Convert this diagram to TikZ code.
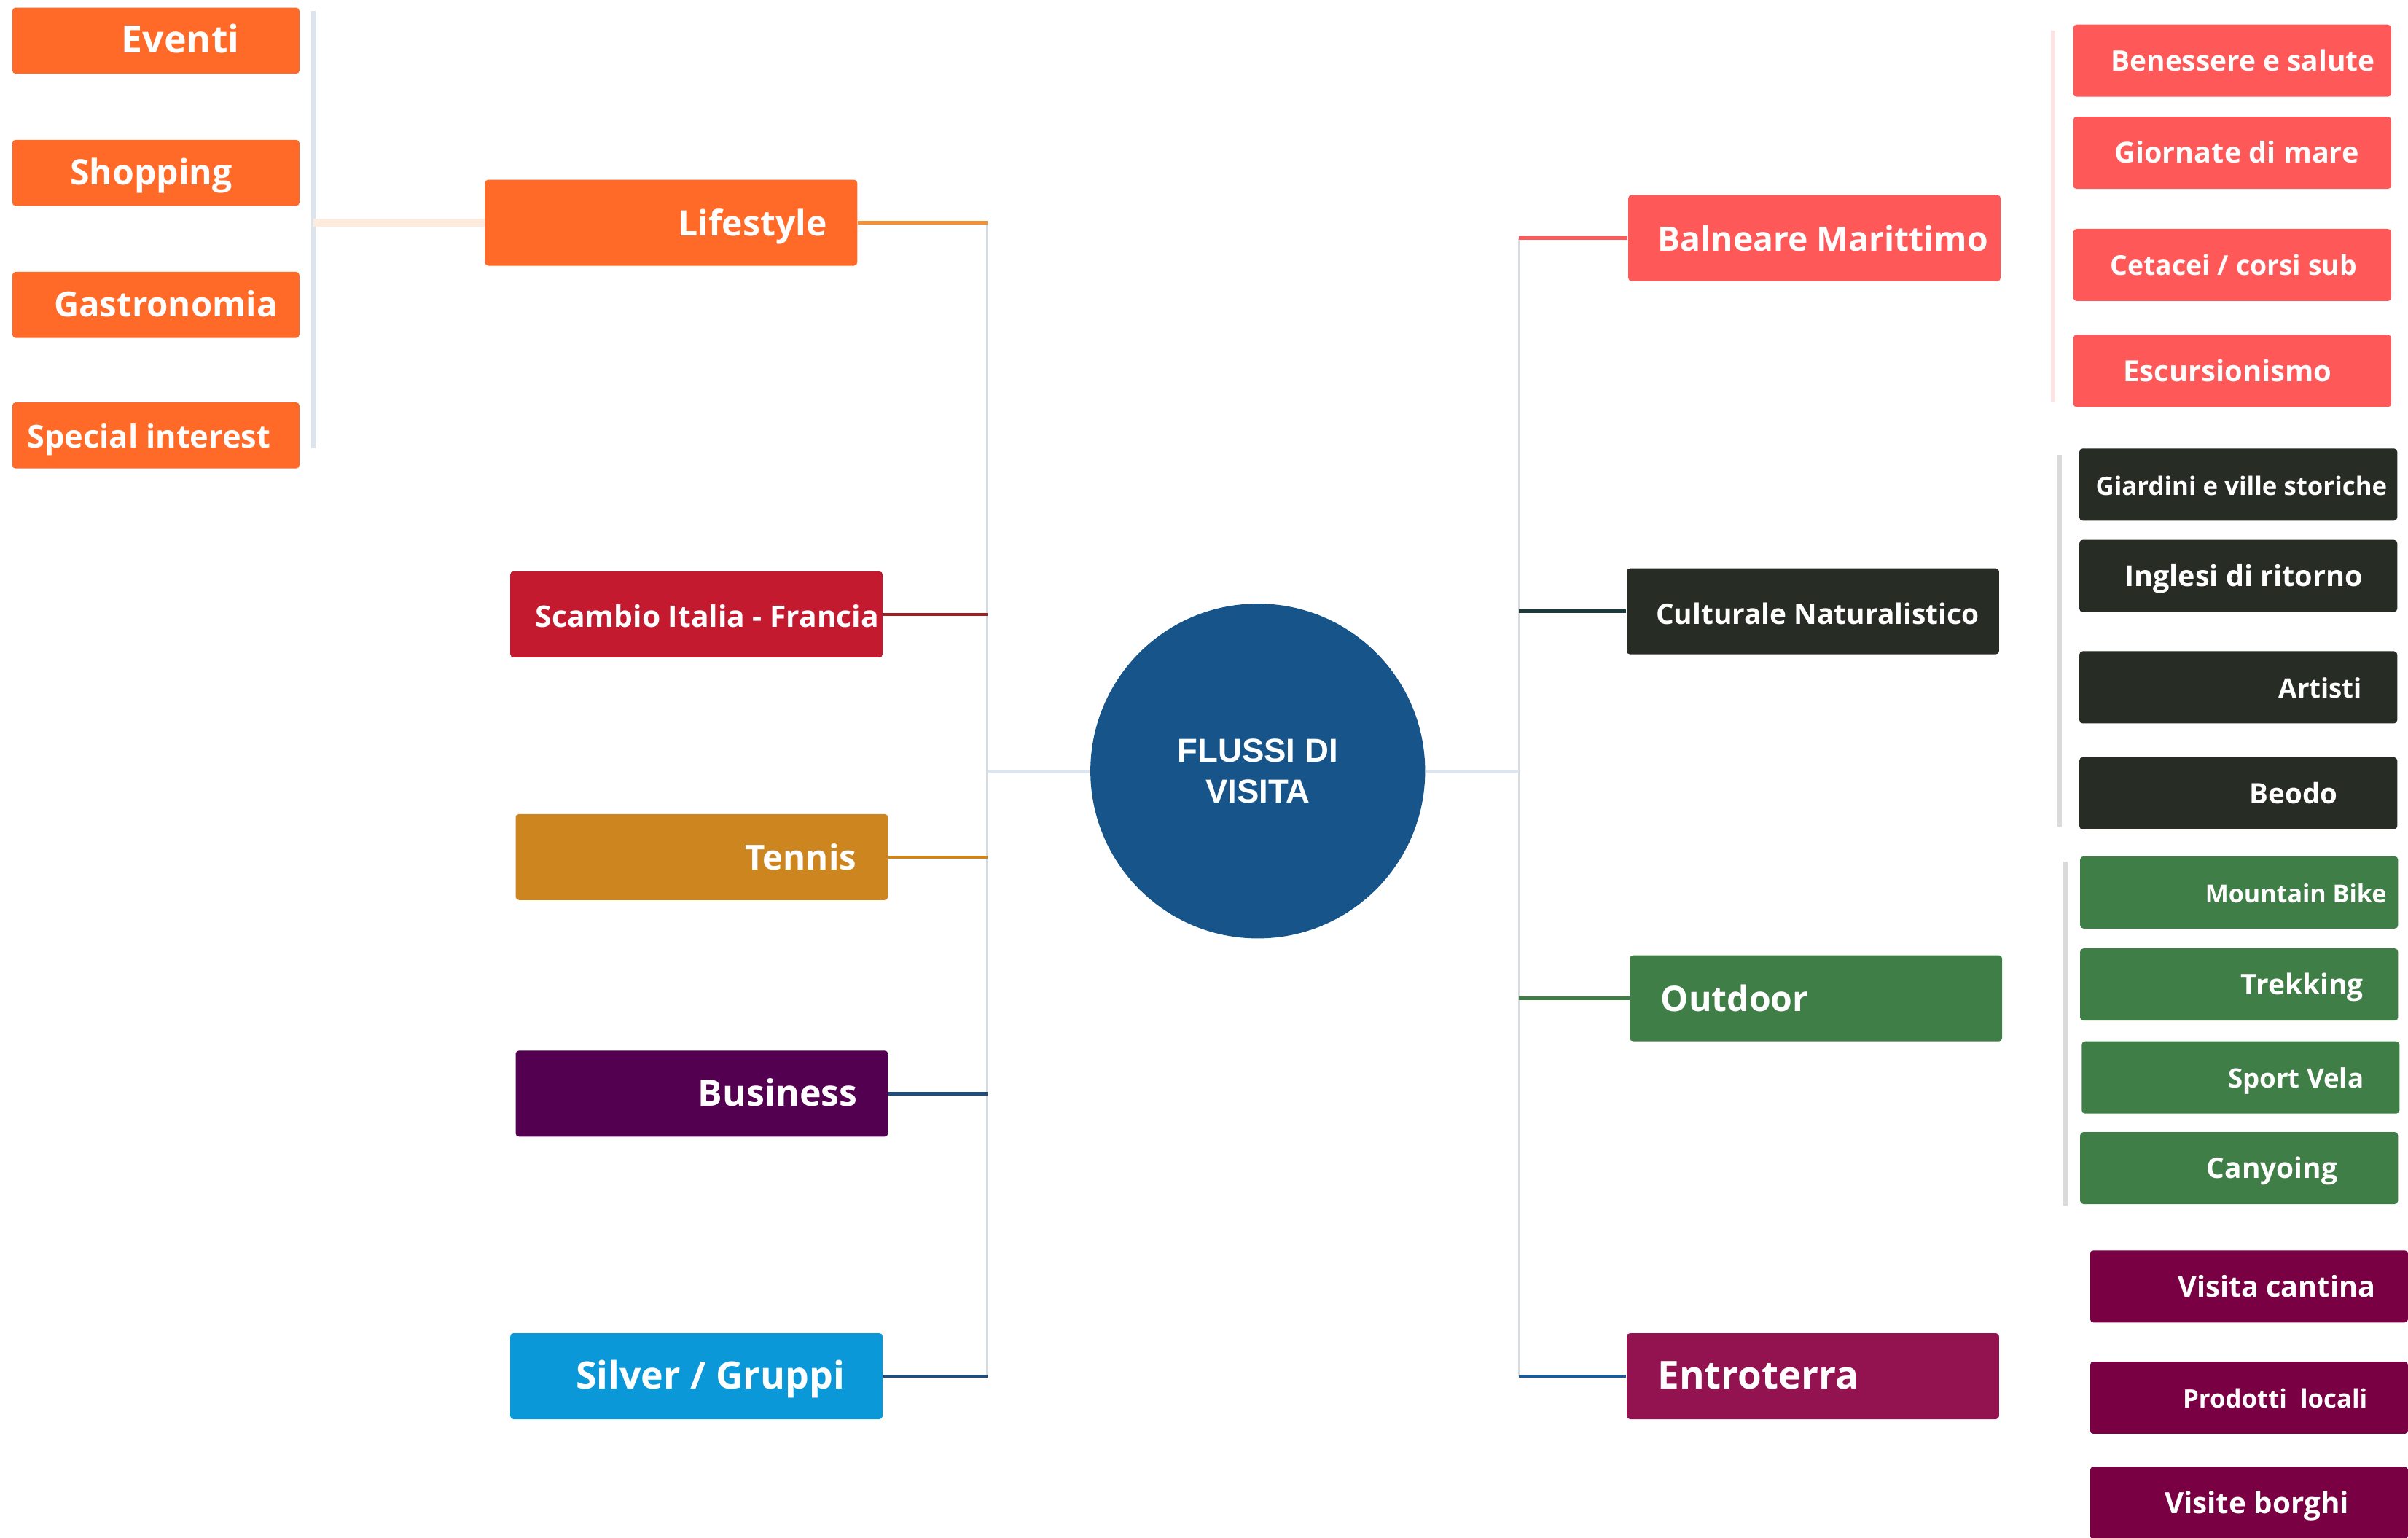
\documentclass[tikz,border=0pt]{standalone}
\usepackage{fontspec}
\setmainfont{Open Sans}
\newfontfamily\hubfont{Liberation Sans}
\usetikzlibrary{positioning}

\newlength\tpx
\setlength\tpx{0.04cm}

\definecolor{lsorange}{RGB}{255,106,40}
\definecolor{lsline}{RGB}{240,145,58}
\definecolor{lspeach}{RGB}{253,235,221}
\definecolor{scambiored}{RGB}{196,26,47}
\definecolor{scambioline}{RGB}{163,31,36}
\definecolor{tennisgold}{RGB}{205,133,32}
\definecolor{businessplum}{RGB}{82,0,79}
\definecolor{silverblue}{RGB}{11,152,216}
\definecolor{navyline}{RGB}{31,78,125}
\definecolor{hubblue}{RGB}{23,84,138}
\definecolor{balnred}{RGB}{255,88,88}
\definecolor{balnbar}{RGB}{253,228,228}
\definecolor{cultdark}{RGB}{39,44,36}
\definecolor{cultline}{RGB}{28,58,58}
\definecolor{outgreen}{RGB}{64,126,71}
\definecolor{entromag}{RGB}{146,19,80}
\definecolor{entroleaf}{RGB}{122,0,68}
\definecolor{entroline}{RGB}{31,90,150}
\definecolor{trunkgrey}{RGB}{214,219,226}
\definecolor{hubgrey}{RGB}{220,228,238}
\definecolor{bargrey}{RGB}{218,218,218}

\begin{document}
\begin{tikzpicture}[
    x=0.02cm, y=-0.02cm,
    cat/.style={rectangle, rounded corners=1.2pt, text=white, inner sep=0pt,
                minimum width=4.85cm, minimum height=1.12cm,
                text height=11pt, text depth=1.5pt,
                font=\bfseries\fontsize{13}{13}\selectfont},
    sub/.style={cat, minimum width=4.14cm, minimum height=0.94cm,
                text height=9.3pt, text depth=1.6pt,
                font=\bfseries\fontsize{10.5}{10.5}\selectfont},
    lsub/.style={cat, fill=lsorange, minimum width=3.74cm, minimum height=0.86cm,
                 text height=10.5pt, text depth=1.5pt},
    fs/.style={font=\bfseries\fontsize{#1}{#1}\selectfont},
    tx/.style={execute at begin node={\hspace*{#1\tpx}}},
    link/.style={line width=1.2pt},
    trunk/.style={line width=0.8pt, trunkgrey},
    bar/.style={line width=1.6pt}
  ]
    \useasboundingbox (0,0) rectangle (1568,1001);

    % Centre
    \node[circle, fill=hubblue, minimum size=4.36cm, inner sep=0pt, text=white,
          align=center, font=\hubfont\bfseries\fontsize{12.3}{15.3}\selectfont]
          (flussi) at (819,502) {FLUSSI DI\\VISITA};

    % Left branches
    \node[cat, fill=lsorange, tx=53] (lifestyle) at (437,145) {Lifestyle};
    \node[cat, fill=scambiored, tx=7, fs=11] (scambio) at (453.5,400) {Scambio Italia - Francia};
    \node[cat, fill=tennisgold, tx=64.5, fs=12.8] (tennis) at (457,558) {Tennis};
    \node[cat, fill=businessplum, tx=49.5, fs=13.5] (business) at (457,712) {Business};
    \node[cat, fill=silverblue, tx=9, fs=14] (silver) at (453.5,896) {Silver / Gruppi};

    % Lifestyle leaves
    \node[lsub, tx=16, fs=14] (eventi) at (101.5,26.5) {Eventi};
    \node[lsub, tx=-3, fs=13] (shopping) at (101.5,112.5) {Shopping};
    \node[lsub, tx=6.5, fs=12.8] (gastronomia) at (101.5,198.5) {Gastronomia};
    \node[lsub, tx=-4.5, fs=11.7] (special) at (101.5,283.5) {Special interest};

    % Right branches
    \node[cat, fill=balnred, tx=5.5, fs=12.5] (balneare) at (1181.5,155) {Balneare Marittimo};
    \node[cat, fill=cultdark, tx=3, fs=10.5] (culturale) at (1180.5,398) {Culturale Naturalistico};
    \node[cat, fill=outgreen, tx=-53] (outdoor) at (1182.5,650) {Outdoor};
    \node[cat, fill=entromag, tx=-35.5, fs=14.3] (entroterra) at (1180.5,896) {Entroterra};

    % Balneare leaves
    \node[sub, fill=balnred, tx=7] (benessere) at (1453.5,39.5) {Benessere e salute};
    \node[sub, fill=balnred, tx=3, fs=10.7] (giornate) at (1453.5,99.5) {Giornate di mare};
    \node[sub, fill=balnred, tx=1, fs=10.1] (cetacei) at (1453.5,172.5) {Cetacei / corsi sub};
    \node[sub, fill=balnred, tx=-3, fs=10.8] (escursionismo) at (1453.5,241.5) {Escursionismo};

    % Culturale leaves
    \node[sub, fill=cultdark, tx=2, fs=9.4] (giardini) at (1457.5,315.5) {Giardini e ville storiche};
    \node[sub, fill=cultdark, tx=3.5, fs=10.7] (inglesi) at (1457.5,375) {Inglesi di ritorno};
    \node[sub, fill=cultdark, tx=53.5, fs=9.9] (artisti) at (1457.5,447.5) {Artisti};
    \node[sub, fill=cultdark, tx=36, fs=10.4] (beodo) at (1457.5,516.5) {Beodo};

    % Outdoor leaves
    \node[sub, fill=outgreen, tx=37, fs=9.2] (mtb) at (1458,581) {Mountain Bike};
    \node[sub, fill=outgreen, tx=41] (trekking) at (1458,641) {Trekking};
    \node[sub, fill=outgreen, tx=36, fs=9.9] (vela) at (1459,701.5) {Sport Vela};
    \node[sub, fill=outgreen, tx=21.5] (canyoing) at (1458,760.5) {Canyoing};

    % Entroterra leaves
    \node[sub, fill=entroleaf, tx=18, fs=10.7] (cantina) at (1464.5,837.5) {Visita cantina};
    \node[sub, fill=entroleaf, tx=17, fs=9.4] (prodotti) at (1464.5,910) {Prodotti\ \ locali};
    \node[sub, fill=entroleaf, tx=5, fs=10.9] (borghi) at (1464.5,978.5) {Visite borghi};

    % Trunks
    \coordinate (ltop) at (643,145);
    \coordinate (lbot) at (643,896);
    \coordinate (rtop) at (989,155);
    \coordinate (rbot) at (989,896);
    \draw[trunk] (ltop) -- (lbot);
    \draw[trunk] (rtop) -- (rbot);
    \draw[line width=1pt, hubgrey] (flussi.west) -- (flussi.west -| ltop);
    \draw[line width=1pt, hubgrey] (flussi.east) -- (flussi.east -| rtop);

    % Branch links
    \draw[link, lsline] (lifestyle.east) -- (lifestyle.east -| ltop);
    \draw[link, scambioline] (scambio.east) -- (scambio.east -| ltop);
    \draw[link, tennisgold] (tennis.east) -- (tennis.east -| ltop);
    \draw[link, navyline] (business.east) -- (business.east -| ltop);
    \draw[link, navyline] (silver.east) -- (silver.east -| ltop);
    \draw[link, balnred] (balneare.west) -- (balneare.west -| rtop);
    \draw[link, cultline] (culturale.west) -- (culturale.west -| rtop);
    \draw[link, outgreen] (outdoor.west) -- (outdoor.west -| rtop);
    \draw[link, entroline] (entroterra.west) -- (entroterra.west -| rtop);

    % Leaf bars
    \coordinate (lbar1) at (204,7);
    \coordinate (lbar2) at (204,292);
    \draw[bar, hubgrey] (lbar1) -- (lbar2);
    \draw[line width=3pt, lspeach] (lifestyle.west) -- (lifestyle.west -| lbar1);
    \coordinate (bbar1) at (1337,20);
    \coordinate (bbar2) at (1337,262);
    \draw[bar, balnbar] (bbar1) -- (bbar2);
    \coordinate (cbar1) at (1341,296);
    \coordinate (cbar2) at (1341,538);
    \draw[bar, bargrey] (cbar1) -- (cbar2);
    \coordinate (obar1) at (1345,561);
    \coordinate (obar2) at (1345,785);
    \draw[bar, bargrey] (obar1) -- (obar2);
\end{tikzpicture}
\end{document}
